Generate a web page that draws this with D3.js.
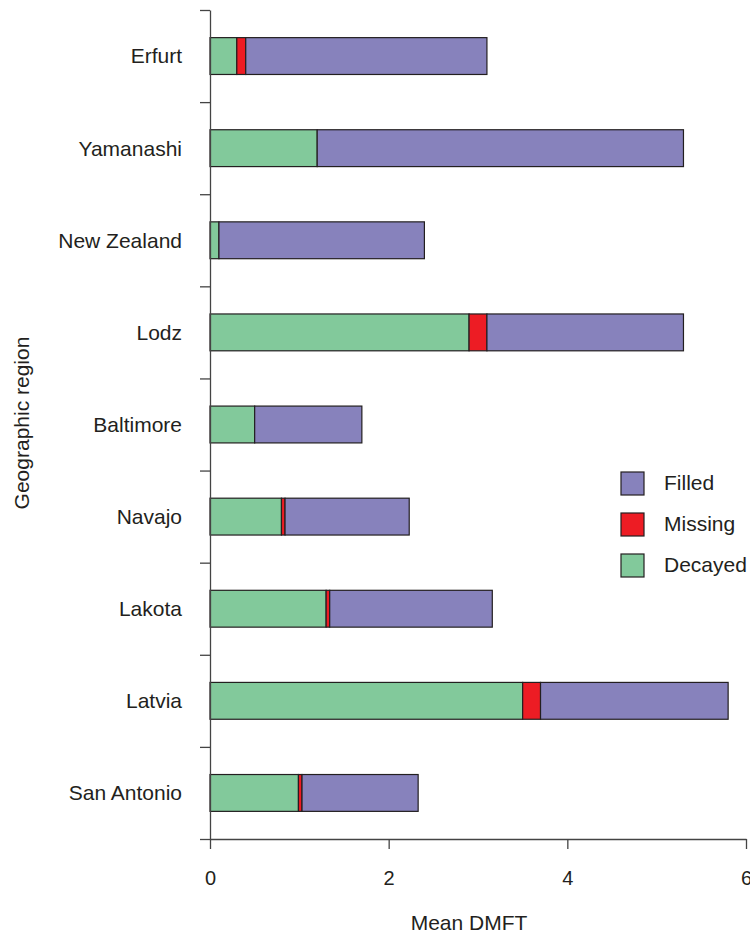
<!DOCTYPE html>
<html>
<head>
<meta charset="utf-8">
<script src="https://cdn.jsdelivr.net/npm/d3@7"></script>
<style>
  body { margin: 0; background: #fff; }
  text { font-family: "Liberation Sans", Arial, sans-serif; fill: #231f20; }
</style>
</head>
<body>
<svg width="750" height="937"></svg>
<script>
let regions = ['Erfurt', 'Yamanashi', 'New Zealand', 'Lodz', 'Baltimore', 'Navajo', 'Lakota', 'Latvia', 'San Antonio'];
let decayed = [0.3, 1.2, 0.1, 2.9, 0.5, 0.8, 1.3, 3.5, 0.99];
let missing = [0.1, 0, 0, 0.2, 0, 0.04, 0.04, 0.2, 0.04];
let filled = [2.7, 4.1, 2.3, 2.2, 1.2, 1.39, 1.82, 2.1, 1.3];
let xTicks = [0, 2, 4, 6];
let legendKeys = ['Filled', 'Missing', 'Decayed'];

let svg = d3.select('svg');

let colors = {decayed: '#82c99b', missing: '#ed1c24', filled: '#8782bc'};
let ink = '#231f20';

let rows = regions.map(function(r, i) {
  return {region: r, decayed: decayed[i], missing: missing[i], filled: filled[i]};
});

let stack = d3.stack().keys(['decayed', 'missing', 'filled'])(rows);

let x = d3.scaleLinear().domain([0, 6]).range([210, 746]);
// index scale: band boundaries for the ticks, band centers for the bars
let yIdx = d3.scaleLinear().domain([0, regions.length]).range([10, 839]);
let y = d3.scaleBand().domain(regions).range([10, 839]).padding(0);
let barH = y.bandwidth() * 0.4;

// bars
let layers = svg.append('g').selectAll('g')
  .data(stack)
  .enter().append('g')
  .attr('fill', function(d) { return colors[d.key]; });

layers.selectAll('rect')
  .data(function(d) { return d.filter(function(s) { return s[1] - s[0] > 0; }); })
  .enter().append('rect')
  .attr('x', function(d) { return x(d[0]); })
  .attr('width', function(d) { return x(d[1]) - x(d[0]); })
  .attr('y', function(d) { return y(d.data.region) + (y.bandwidth() - barH) / 2; })
  .attr('height', barH)
  .attr('stroke', ink)
  .attr('stroke-width', 1.2);

// y axis
let yAxis = svg.append('g')
  .attr('transform', 'translate(210,0)')
  .call(d3.axisLeft(yIdx).tickValues(d3.range(regions.length + 1)).tickSize(10).tickSizeOuter(0).tickFormat(''));
yAxis.selectAll('path, line').attr('stroke', '#444').attr('stroke-width', 1.3);

svg.append('g').selectAll('text')
  .data(regions)
  .enter().append('text')
  .attr('x', 182)
  .attr('y', function(d) { return y(d) + y.bandwidth() / 2; })
  .attr('dy', '0.35em')
  .attr('text-anchor', 'end')
  .attr('font-size', 21)
  .text(function(d) { return d; });

// x axis
let xAxis = svg.append('g')
  .attr('transform', 'translate(0,839)')
  .call(d3.axisBottom(x).tickValues(xTicks).tickSize(10).tickSizeOuter(0).tickPadding(22).tickFormat(d3.format('d')));
xAxis.selectAll('path, line').attr('stroke', '#444').attr('stroke-width', 1.3);
xAxis.selectAll('text').attr('font-size', 20).attr('font-family', '"Liberation Sans", Arial, sans-serif').attr('fill', ink);

// axis titles
svg.append('text')
  .attr('x', 469)
  .attr('y', 930)
  .attr('text-anchor', 'middle')
  .attr('font-size', 21)
  .text('Mean DMFT');

svg.append('text')
  .attr('transform', 'translate(29,423) rotate(-90)')
  .attr('text-anchor', 'middle')
  .attr('font-size', 21)
  .text('Geographic region');

// legend
let legend = svg.append('g').selectAll('g')
  .data(legendKeys)
  .enter().append('g')
  .attr('transform', function(d, i) { return 'translate(621,' + (472 + i * 41) + ')'; });

legend.append('rect')
  .attr('width', 23)
  .attr('height', 23)
  .attr('fill', function(d) { return colors[d.toLowerCase()]; })
  .attr('stroke', ink)
  .attr('stroke-width', 1.2);

legend.append('text')
  .attr('x', 43)
  .attr('y', 18)
  .attr('font-size', 21)
  .text(function(d) { return d; });
</script>
</body>
</html>
